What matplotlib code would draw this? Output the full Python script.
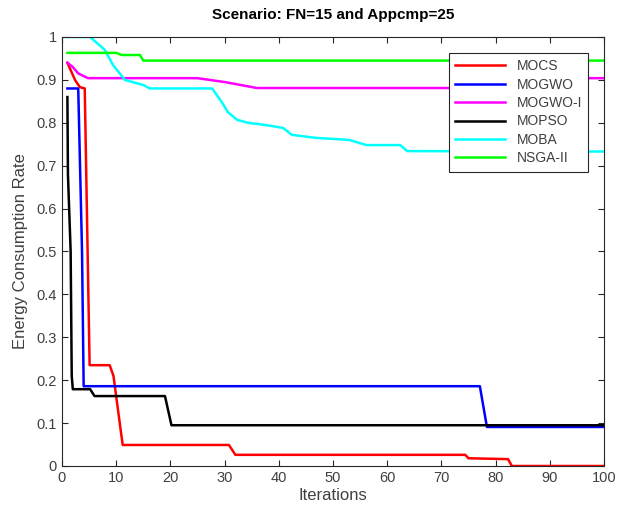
import matplotlib
matplotlib.use("Agg")
import matplotlib.pyplot as plt

plt.rcParams["font.family"] = ["Liberation Sans", "DejaVu Sans"]

# breakpoints (iteration, rate)
mocs_x = [1, 2.4, 3.3, 4.2, 5.1, 8.8, 9.5, 11.2, 30.8, 32, 74.4, 75, 82.3, 83, 100]
mocs_y = [0.94, 0.90, 0.883, 0.88, 0.235, 0.235, 0.21, 0.049, 0.049, 0.026, 0.026, 0.018, 0.016, 0.0, 0.0]

mogwo_x = [1, 3, 3.7, 4, 77.1, 78.4, 100]
mogwo_y = [0.88, 0.88, 0.5, 0.186, 0.186, 0.091, 0.091]

mogwoi_x = [1, 2, 3, 4.8, 25, 30, 33, 36, 94, 95, 100]
mogwoi_y = [0.94, 0.93, 0.915, 0.904, 0.904, 0.895, 0.888, 0.881, 0.881, 0.904, 0.904]

mopso_x = [1, 1.1, 1.6, 1.8, 2, 5.2, 6, 19, 20.2, 100]
mopso_y = [0.86, 0.68, 0.5, 0.21, 0.179, 0.179, 0.163, 0.163, 0.095, 0.095]

moba_x = [1, 5.2, 7.9, 9.4, 11.6, 13, 15, 16.2, 27.7, 29.5, 30.6, 32.3, 34.3, 37.5,
          40.8, 42.4, 46.7, 53, 56.2, 62.4, 63.7, 100]
moba_y = [1.0, 1.0, 0.97, 0.935, 0.90, 0.895, 0.888, 0.88, 0.88, 0.848, 0.825, 0.807, 0.80, 0.795,
          0.788, 0.772, 0.765, 0.76, 0.748, 0.748, 0.734, 0.733]

nsga_x = [1, 10, 11, 14.4, 15, 100]
nsga_y = [0.963, 0.963, 0.958, 0.958, 0.945, 0.945]

series = [
    ("MOCS", mocs_x, mocs_y, "#ff0000"),
    ("MOGWO", mogwo_x, mogwo_y, "#0000ff"),
    ("MOGWO-I", mogwoi_x, mogwoi_y, "#ff00ff"),
    ("MOPSO", mopso_x, mopso_y, "#000000"),
    ("MOBA", moba_x, moba_y, "#00ffff"),
    ("NSGA-II", nsga_x, nsga_y, "#00ff00"),
]

fig = plt.figure(figsize=(6.21, 5.18), dpi=100)
ax = fig.add_axes([0.0998, 0.1004, 0.8728, 0.8282])

for name, xs, ys, c in series:
    ax.plot(xs, ys, color=c, linewidth=1.8, label=name)

ax.set_xlim(0, 100)
ax.set_ylim(0, 1)
ax.set_xticks(range(0, 101, 10))
ax.set_yticks([i / 10 for i in range(11)])
ax.set_yticklabels(["0", "0.1", "0.2", "0.3", "0.4", "0.5", "0.6", "0.7", "0.8", "0.9", "1"])
ax.tick_params(direction="in", top=True, right=True, labelsize=10.5,
               colors="#262626", labelcolor="#404040", length=4)
for s in ax.spines.values():
    s.set_color("#262626")
    s.set_linewidth(0.8)

ax.set_xlabel("Iterations", fontsize=12, color="#404040", labelpad=2)
ax.set_ylabel("Energy Consumption Rate", fontsize=12, color="#404040", labelpad=6)
ax.set_title("Scenario: FN=15 and Appcmp=25", fontsize=11, fontweight="bold", pad=13)

leg = ax.legend(loc="upper right", bbox_to_anchor=(0.971, 0.963), borderaxespad=0,
                fontsize=10, fancybox=False, framealpha=1, edgecolor="#262626",
                handlelength=3.6, borderpad=0.45, labelspacing=0.32)
leg.get_frame().set_linewidth(0.8)
for t in leg.get_texts():
    t.set_color("#404040")

fig.savefig("out.png", dpi=100)
